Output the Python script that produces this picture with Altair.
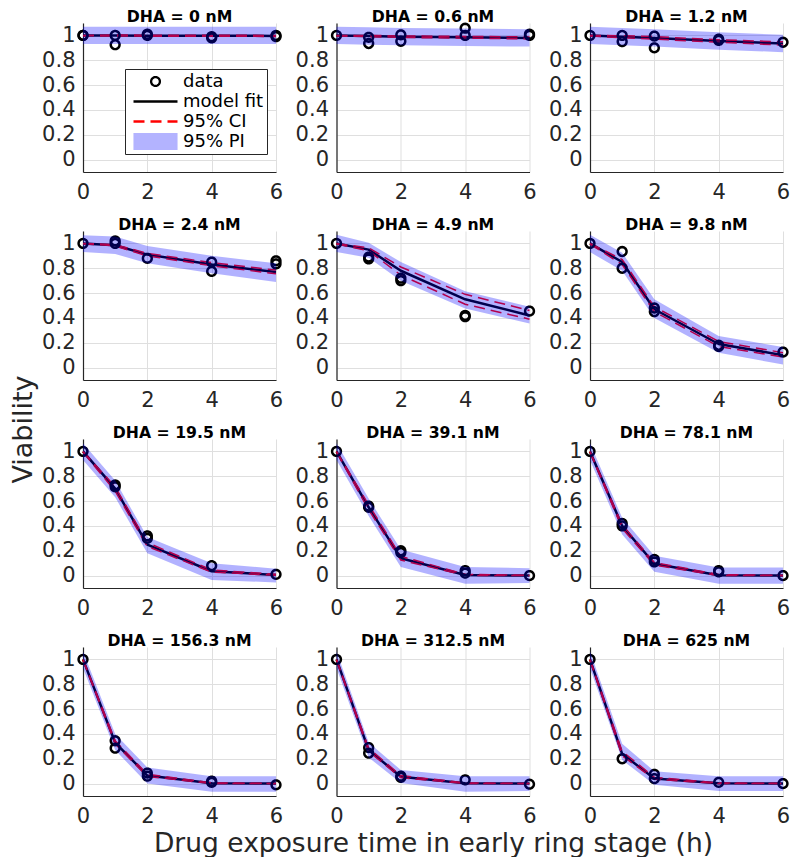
import math
import altair as alt
import pandas as pd

# ---------------- data ----------------
TIMES = [0, 1, 2, 4, 6]
CONCS = ["0", "0.6", "1.2", "2.4", "4.9", "9.8", "19.5", "39.1", "78.1", "156.3", "312.5", "625"]

FIT = [
    [1.0, 0.999, 0.998, 0.997, 0.996],
    [1.0, 0.995, 0.99, 0.985, 0.98],
    [1.0, 0.99, 0.98, 0.955, 0.935],
    [1.0, 0.985, 0.91, 0.83, 0.77],
    [1.0, 0.95, 0.78, 0.55, 0.42],
    [1.0, 0.85, 0.47, 0.19, 0.10],
    [1.0, 0.70, 0.25, 0.035, 0.005],
    [1.0, 0.55, 0.14, 0.005, 0.0],
    [1.0, 0.40, 0.095, 0.003, 0.0],
    [1.0, 0.33, 0.065, 0.003, 0.0],
    [1.0, 0.27, 0.055, 0.002, 0.0],
    [1.0, 0.24, 0.04, 0.002, 0.0],
]
CI_LO = [
    [0.997, 0.995, 0.994, 0.993, 0.992],
    [0.996, 0.99, 0.984, 0.978, 0.972],
    [0.995, 0.982, 0.97, 0.945, 0.922],
    [0.998, 0.98, 0.90, 0.82, 0.755],
    [0.995, 0.94, 0.745, 0.51, 0.39],
    [0.995, 0.83, 0.45, 0.17, 0.085],
    [0.995, 0.68, 0.235, 0.028, 0.003],
    [0.995, 0.53, 0.125, 0.002, 0.0],
    [0.995, 0.38, 0.085, 0.0, 0.0],
    [0.995, 0.32, 0.058, 0.0, 0.0],
    [0.995, 0.26, 0.048, 0.0, 0.0],
    [0.995, 0.225, 0.035, 0.0, 0.0],
]
CI_HI = [
    [1.0, 1.003, 1.002, 1.001, 1.0],
    [1.0, 1.0, 0.996, 0.992, 0.988],
    [1.0, 0.998, 0.99, 0.965, 0.948],
    [1.0, 0.99, 0.92, 0.845, 0.785],
    [1.0, 0.965, 0.81, 0.59, 0.46],
    [1.0, 0.87, 0.49, 0.21, 0.12],
    [1.0, 0.715, 0.265, 0.045, 0.01],
    [1.0, 0.57, 0.155, 0.01, 0.002],
    [1.0, 0.41, 0.105, 0.008, 0.001],
    [1.0, 0.345, 0.075, 0.006, 0.001],
    [1.0, 0.285, 0.065, 0.005, 0.001],
    [1.0, 0.26, 0.05, 0.005, 0.001],
]
PI_LO = [
    [0.93, 0.93, 0.93, 0.93, 0.93],
    [0.93, 0.925, 0.92, 0.915, 0.91],
    [0.93, 0.92, 0.91, 0.885, 0.865],
    [0.93, 0.915, 0.84, 0.76, 0.69],
    [0.93, 0.885, 0.70, 0.475, 0.355],
    [0.93, 0.78, 0.40, 0.12, 0.025],
    [0.93, 0.63, 0.18, -0.035, -0.055],
    [0.93, 0.48, 0.07, -0.065, -0.06],
    [0.93, 0.33, 0.03, -0.065, -0.065],
    [0.93, 0.27, 0.0, -0.065, -0.065],
    [0.93, 0.21, 0.005, -0.065, -0.06],
    [0.93, 0.19, -0.01, -0.06, -0.06],
]
PI_HI = [
    [1.07, 1.07, 1.07, 1.07, 1.07],
    [1.07, 1.065, 1.06, 1.055, 1.05],
    [1.07, 1.06, 1.05, 1.025, 1.005],
    [1.065, 1.055, 0.98, 0.90, 0.84],
    [1.07, 1.005, 0.85, 0.615, 0.49],
    [1.07, 0.925, 0.55, 0.255, 0.165],
    [1.065, 0.765, 0.31, 0.10, 0.055],
    [1.065, 0.62, 0.21, 0.07, 0.06],
    [1.065, 0.465, 0.16, 0.065, 0.065],
    [1.065, 0.40, 0.13, 0.06, 0.06],
    [1.065, 0.33, 0.11, 0.06, 0.06],
    [1.065, 0.32, 0.10, 0.06, 0.06],
]
DATA_T = [
    [0, 0, 1, 1, 2, 2, 4, 4, 6, 6],
    [0, 1, 1, 2, 2, 4, 4, 6, 6],
    [0, 1, 1, 2, 2, 4, 4, 6],
    [0, 1, 1, 2, 4, 4, 6, 6],
    [0, 1, 1, 2, 2, 4, 4, 6],
    [0, 1, 1, 2, 2, 4, 4, 6],
    [0, 1, 1, 2, 2, 4, 6],
    [0, 1, 1, 2, 2, 4, 4, 6],
    [0, 1, 1, 2, 2, 4, 4, 6],
    [0, 1, 1, 2, 2, 4, 4, 6],
    [0, 1, 1, 2, 2, 4, 6],
    [0, 1, 2, 2, 4, 6],
]
DATA_V = [
    [1.0, 1.0, 1.0, 0.925, 1.0, 1.01, 0.99, 0.98, 1.0, 0.99],
    [1.0, 0.985, 0.935, 1.005, 0.953, 1.058, 1.0, 1.01, 1.0],
    [1.0, 1.0, 0.95, 0.995, 0.90, 0.97, 0.96, 0.945],
    [1.0, 1.02, 1.0, 0.88, 0.85, 0.775, 0.86, 0.835],
    [1.0, 0.89, 0.875, 0.72, 0.70, 0.42, 0.41, 0.455],
    [1.0, 0.935, 0.80, 0.48, 0.45, 0.18, 0.17, 0.125],
    [1.0, 0.73, 0.715, 0.32, 0.30, 0.08, 0.01],
    [1.0, 0.56, 0.55, 0.20, 0.185, 0.04, 0.02, 0.0],
    [1.0, 0.42, 0.40, 0.13, 0.11, 0.04, 0.03, 0.0],
    [1.0, 0.345, 0.285, 0.085, 0.06, 0.02, 0.01, -0.01],
    [1.0, 0.29, 0.245, 0.06, 0.05, 0.03, -0.005],
    [1.0, 0.20, 0.075, 0.04, 0.01, 0.0],
]

SERIES = ["data", "model fit", "95% CI", "95% PI"]
SERIES_COLORS = ["black", "black", "red", "#b3b3ff"]


# open-circle marker as a small polygon path (unit square symbol space)
def ring_path(r, n=28):
    pts = [(r * math.cos(2 * math.pi * k / n), r * math.sin(2 * math.pi * k / n)) for k in range(n)]
    return "M" + "L".join(f"{x:.4f},{y:.4f}" for x, y in pts) + "Z"


SYM = 1936                      # legend symbol area -> 44 px wide line samples
CIRCLE = ring_path(0.2)         # -> ~4.4 px radius
RECT = "M-0.95,-0.33H0.95V0.33H-0.95Z"
SERIES_SHAPES = [CIRCLE, "stroke", "stroke", RECT]
DASH = [11, 6]
SERIES_DASH = [[1, 0], [1, 0], DASH, [1, 0]]
SERIES_FILL = ["transparent", "transparent", "transparent", "#b3b3ff"]

W, H = 193, 149
FONT = "DejaVu Sans"

yscale = alt.Scale(domain=[-0.1, 1.1], nice=False, zero=False)
xscale = alt.Scale(domain=[0, 6], nice=False)


def x_axis(i):
    kw = dict(values=[0, 2, 4, 6], format="~g", title=None)
    if i == 10:
        kw["title"] = "Drug exposure time in early ring stage (h)"
    return alt.Axis(**kw)


def y_axis(i):
    kw = dict(values=[0, 0.2, 0.4, 0.6, 0.8, 1.0], format="~g", title=None)
    if i == 3:
        kw.update(title="Viability", titleX=-46, titleY=198, titleAngle=270,
                  titleBaseline="bottom", titleAlign="center", titleFontSize=27)
    return alt.Axis(**kw)


legend = alt.Legend(
    title=None, orient="none", legendX=42, legendY=46,
    fillColor="white", strokeColor="#262626", padding=3, cornerRadius=0,
    labelFontSize=18, labelFont=FONT, labelColor="black", labelOffset=4,
    symbolSize=SYM, symbolStrokeWidth=2.3, symbolOffset=4, symbolFillColor="transparent",
    clipHeight=19, rowPadding=1,
)


def panel(i):
    curve = pd.DataFrame({
        "t": TIMES, "fit": FIT[i], "ci_lo": CI_LO[i], "ci_hi": CI_HI[i],
        "pi_lo": PI_LO[i], "pi_hi": PI_HI[i],
    })
    pts = pd.DataFrame({"t": DATA_T[i], "v": DATA_V[i], "series": "data"})
    xa, ya = x_axis(i), y_axis(i)
    X = alt.X("t:Q", scale=xscale, axis=xa)

    def Y(f):
        return alt.Y(f, scale=yscale, axis=ya)

    base = alt.Chart(curve)
    fit = base.mark_line(color="black", strokeWidth=2.5, strokeJoin="round").encode(x=X, y=Y("fit:Q"))
    lo = base.mark_line(color="red", strokeWidth=1.5, strokeDash=DASH).encode(x=X, y=Y("ci_lo:Q"))
    hi = base.mark_line(color="red", strokeWidth=1.5, strokeDash=DASH).encode(x=X, y=Y("ci_hi:Q"))
    band = base.mark_area(color="blue", opacity=0.3).encode(x=X, y=Y("pi_hi:Q"), y2="pi_lo:Q")

    pbase = alt.Chart(pts)
    if i == 0:
        points = pbase.mark_point(filled=False, size=SYM, strokeWidth=2.5, strokeJoin="round",
                                  opacity=1).encode(
            x=X, y=Y("v:Q"),
            color=alt.Color("series:N", scale=alt.Scale(domain=SERIES, range=SERIES_COLORS), legend=legend),
            shape=alt.Shape("series:N", scale=alt.Scale(domain=SERIES, range=SERIES_SHAPES), legend=legend),
            strokeDash=alt.StrokeDash("series:N", scale=alt.Scale(domain=SERIES, range=SERIES_DASH), legend=legend),
            fill=alt.Fill("series:N", scale=alt.Scale(domain=SERIES, range=SERIES_FILL), legend=legend),
        )
    else:
        points = pbase.mark_point(filled=False, shape=CIRCLE, size=SYM, strokeWidth=2.5,
                                  strokeJoin="round", opacity=1, color="black").encode(x=X, y=Y("v:Q"))

    return alt.layer(fit, lo, hi, points, band).properties(
        width=W, height=H,
        title=alt.TitleParams(f"DHA = {CONCS[i]} nM", fontSize=15.7, fontWeight="bold",
                              offset=-3, frame="group", anchor="middle", color="black", font=FONT),
    )


panels = [panel(i) for i in range(12)]

chart = alt.concat(
    *panels, columns=3, spacing={"row": 59, "column": 60.5}, bounds="flush"
).configure(
    font=FONT, padding={"left": 1, "top": 0, "right": 0, "bottom": 0}
).configure_view(
    stroke=None
).configure_axis(
    labelFontSize=21, labelFont=FONT, labelColor="#262626",
    domainColor="#262626", domainWidth=1.2,
    ticks=False, tickSize=0,
    grid=True, gridColor="#dfdfdf", gridWidth=1,
    labelFlush=False, labelOverlap=False, labelBound=False,
    titleFontSize=26.5, titleFontWeight="normal", titleColor="#262626", titleFont=FONT,
    titlePadding=4,
).configure_axisX(
    labelPadding=9
).configure_axisY(
    labelPadding=8
)

chart.save("out.html", embed_options={"renderer": "svg", "actions": False})
